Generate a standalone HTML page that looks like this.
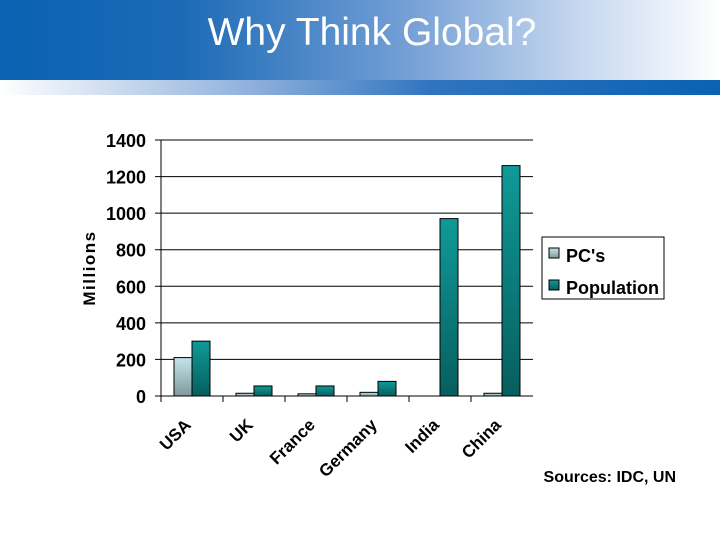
<!DOCTYPE html>
<html><head><meta charset="utf-8"><style>
body{margin:0;width:720px;height:540px;background:#fff;overflow:hidden;font-family:"Liberation Sans",Arial,sans-serif}
#hdr{position:absolute;left:0;top:0;width:720px;height:80px;background:linear-gradient(to right,#0a62b2 0%,#1b6ab6 25%,#6f9cd4 55%,#c5d6ee 80%,#fff 100%)}
#strip{position:absolute;left:0;top:80px;width:720px;height:15px;background:linear-gradient(to right,#fff 0%,#8eb0dc 35%,#2f74bf 60%,#0a62b2 100%)}
#title{position:absolute;left:0;width:744px;top:11px;text-align:center;color:#fff;font-size:39px}
</style></head><body>
<div id="hdr"></div>
<div id="strip"></div>
<div id="title">Why Think Global?</div>
<svg id="chart" width="720" height="540" style="position:absolute;left:0;top:0">
<defs>
<linearGradient id="gpc" x1="0" y1="0" x2="0" y2="1"><stop offset="0" stop-color="#c6e4e8"/><stop offset="1" stop-color="#7f9a9c"/></linearGradient>
<linearGradient id="gpop" x1="0" y1="0" x2="0" y2="1"><stop offset="0" stop-color="#0f9a98"/><stop offset="1" stop-color="#075e5e"/></linearGradient>
</defs>
</svg>
<script>
const categories=["USA","UK","France","Germany","India","China"];
const pcs=[210,15,12,20,0,15];
const population=[300,55,55,80,970,1260];
const ticks=[0,200,400,600,800,1000,1200,1400];
const svg=document.getElementById('chart');
const NS="http://www.w3.org/2000/svg";
const X0=161,X1=533,Y0=396,Y1=140,MAX=1400;
const y=v=>Y0-(v/MAX)*(Y0-Y1);
const bw=(X1-X0)/categories.length;
function mk(t,a,txt){const e=document.createElementNS(NS,t);for(const k in a)e.setAttribute(k,a[k]);if(txt!=null)e.textContent=txt;svg.appendChild(e);return e;}
ticks.forEach(t=>{
 const l=mk('line',{x1:X0-6,x2:X1,y1:y(t),y2:y(t),stroke:'#000','stroke-width':1});
 
 
 const tx=mk('text',{x:146,y:y(t)+7,'text-anchor':'end','font-size':18,'font-weight':'bold',fill:'#000'},t);
 
 
});
const ax=mk('line',{x1:X0,x2:X0,y1:Y1,y2:Y0,stroke:'#000'});


for(let i=0;i<categories.length;i++){
 const tk=mk('line',{x1:X0+i*bw,x2:X0+i*bw,y1:Y0,y2:Y0+6,stroke:'#000'});
 
 
}
categories.forEach((c,i)=>{
 const cx=X0+i*bw;
 const b1=mk('rect',{x:cx+13,y:y(pcs[i]),width:18,height:Y0-y(pcs[i]),fill:'url(#gpc)',stroke:'#000','stroke-width':1});
 
 
 const b2=mk('rect',{x:cx+31,y:y(population[i]),width:18,height:Y0-y(population[i]),fill:'url(#gpop)',stroke:'#000','stroke-width':1});
 
 
 const lx=cx+bw/2, ly=426;
 const t=mk('text',{x:lx,y:ly,'text-anchor':'end','font-size':17,'font-weight':'bold',transform:`rotate(-45 ${lx} ${ly})`},c);
 
 
});
const yt=mk('text',{x:95,y:268,'text-anchor':'middle','font-size':17,'font-weight':'bold','letter-spacing':1.5,transform:'rotate(-90 95 268)'},'Millions');


const lg=mk('rect',{x:542,y:237,width:122,height:62,fill:'#fff',stroke:'#000'});


const s1=mk('rect',{x:549,y:248,width:10,height:10,fill:'url(#gpc)',stroke:'#000'});


const l1=mk('text',{x:566,y:262,'font-size':18,'font-weight':'bold'},"PC's");


const s2=mk('rect',{x:549,y:280,width:10,height:10,fill:'url(#gpop)',stroke:'#000'});


const l2=mk('text',{x:566,y:294,'font-size':18,'font-weight':'bold'},'Population');


const src=mk('text',{x:676,y:482,'text-anchor':'end','font-size':16,'font-weight':'bold'},'Sources: IDC, UN');


</script>
</body></html>
